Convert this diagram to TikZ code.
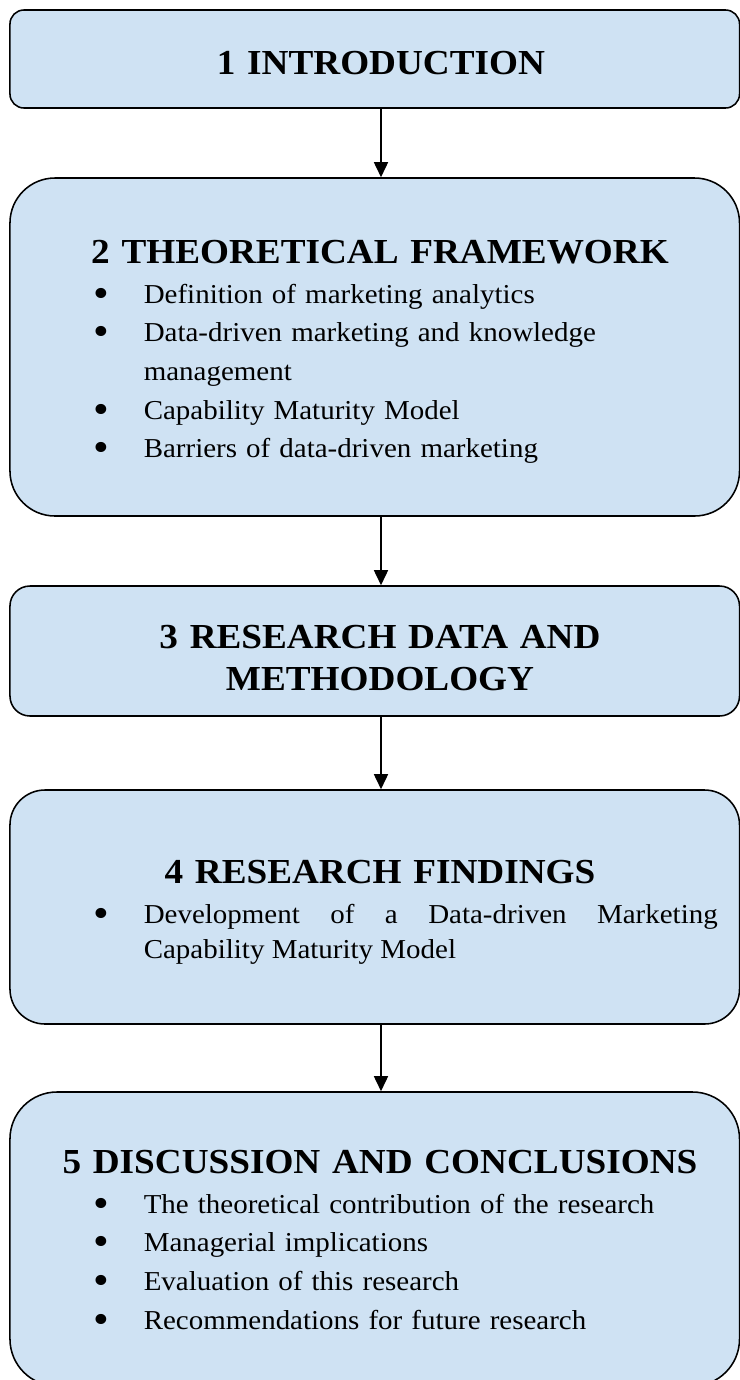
\documentclass[tikz,border=0pt]{standalone}
\usepackage{fontspec}
\usepackage{graphicx}
\setmainfont{Liberation Serif}[FakeStretch=1.06]
\usetikzlibrary{arrows.meta}

\definecolor{stagefill}{RGB}{207,226,243}
\newcommand\listsetup{\hyphenpenalty=10000 \exhyphenpenalty=10000 \tolerance=10000 \hbadness=10000 }
\newcommand\bitem[1]{\hangindent=20.7pt \hangafter=1 \noindent\makebox[20.7pt][l]{\hspace{-1.9pt}\smash{\raisebox{-1.8pt}{\scalebox{1.55}{\textbullet}}}}#1\par}

\tikzset{every picture/.style={line width=0.7pt}}
\tikzset{
  stage/.style={draw, fill=stagefill, minimum width=328.3pt, inner sep=0pt},
  title/.style={anchor=base, inner sep=0pt, text width=300pt, align=center,
    font=\fontsize{15.8pt}{18.9pt}\selectfont\bfseries},
  itemlist/.style={anchor=base west, inner sep=0pt, text width=279pt,
    font=\fontsize{12.3pt}{#1}\selectfont},
  flow/.style={-{Triangle[length=6.75pt,width=6.3pt]}},
}

\begin{document}
\begin{tikzpicture}[x=0.45pt,y=0.45pt,yscale=-1,xscale=1]
    \useasboundingbox (0,0) rectangle (740,1380);
    \coordinate (axis) at (381,0);

    %Shape: Rounded Rectangle [id:b1]
    \node [stage, minimum height=44.1pt, rounded corners=6.3pt] (b1) at (374.75,59) {};
    %Shape: Rounded Rectangle [id:b2]
    \node [stage, minimum height=152.1pt, rounded corners=20.25pt] (b2) at (374.75,347) {};
    %Shape: Rounded Rectangle [id:b3]
    \node [stage, minimum height=58.5pt, rounded corners=9pt] (b3) at (374.75,651) {};
    %Shape: Rounded Rectangle [id:b4]
    \node [stage, minimum height=105.3pt, rounded corners=15.75pt] (b4) at (374.75,907) {};
    %Shape: Rounded Rectangle [id:b5]
    \node [stage, minimum height=132.3pt, rounded corners=21.15pt] (b5) at (374.75,1239) {};

    %Straight Lines
    \draw [flow] (b1.south -| axis) -- (b2.north -| axis);
    \draw [flow] (b2.south -| axis) -- (b3.north -| axis);
    \draw [flow] (b3.south -| axis) -- (b4.north -| axis);
    \draw [flow] (b4.south -| axis) -- (b5.north -| axis);

    % Text Node
    \node [title] (h1) at (381,74) {1 INTRODUCTION};
    % Text Node
    \node [title] (h2) at (380,263) {2 THEORETICAL FRAMEWORK};
    % Text Node
    \node [itemlist=17.4pt, align=left] (l2) at (97,303) {\listsetup
      \bitem{Definition of marketing analytics}%
      \bitem{Data-driven marketing and knowledge management}%
      \bitem{Capability Maturity Model}%
      \bitem{Barriers of data-driven marketing}};
    % Text Node
    \node [title] (h3) at (380,648) {3 RESEARCH DATA AND\\METHODOLOGY};
    % Text Node
    \node [title] (h4) at (380,883) {4 RESEARCH FINDINGS};
    % Text Node
    \node [itemlist=15.75pt, align=justify] (l4) at (97,923) {\listsetup
      \bitem{Development of a Data-driven Marketing Capability Maturity Model}};
    % Text Node
    \node [title] (h5) at (380,1173) {5 DISCUSSION AND CONCLUSIONS};
    % Text Node
    \node [itemlist=17.5pt, align=left] (l5) at (97,1213) {\listsetup
      \bitem{The theoretical contribution of the research}%
      \bitem{Managerial implications}%
      \bitem{Evaluation of this research}%
      \bitem{Recommendations for future research}};
\end{tikzpicture}
\end{document}
